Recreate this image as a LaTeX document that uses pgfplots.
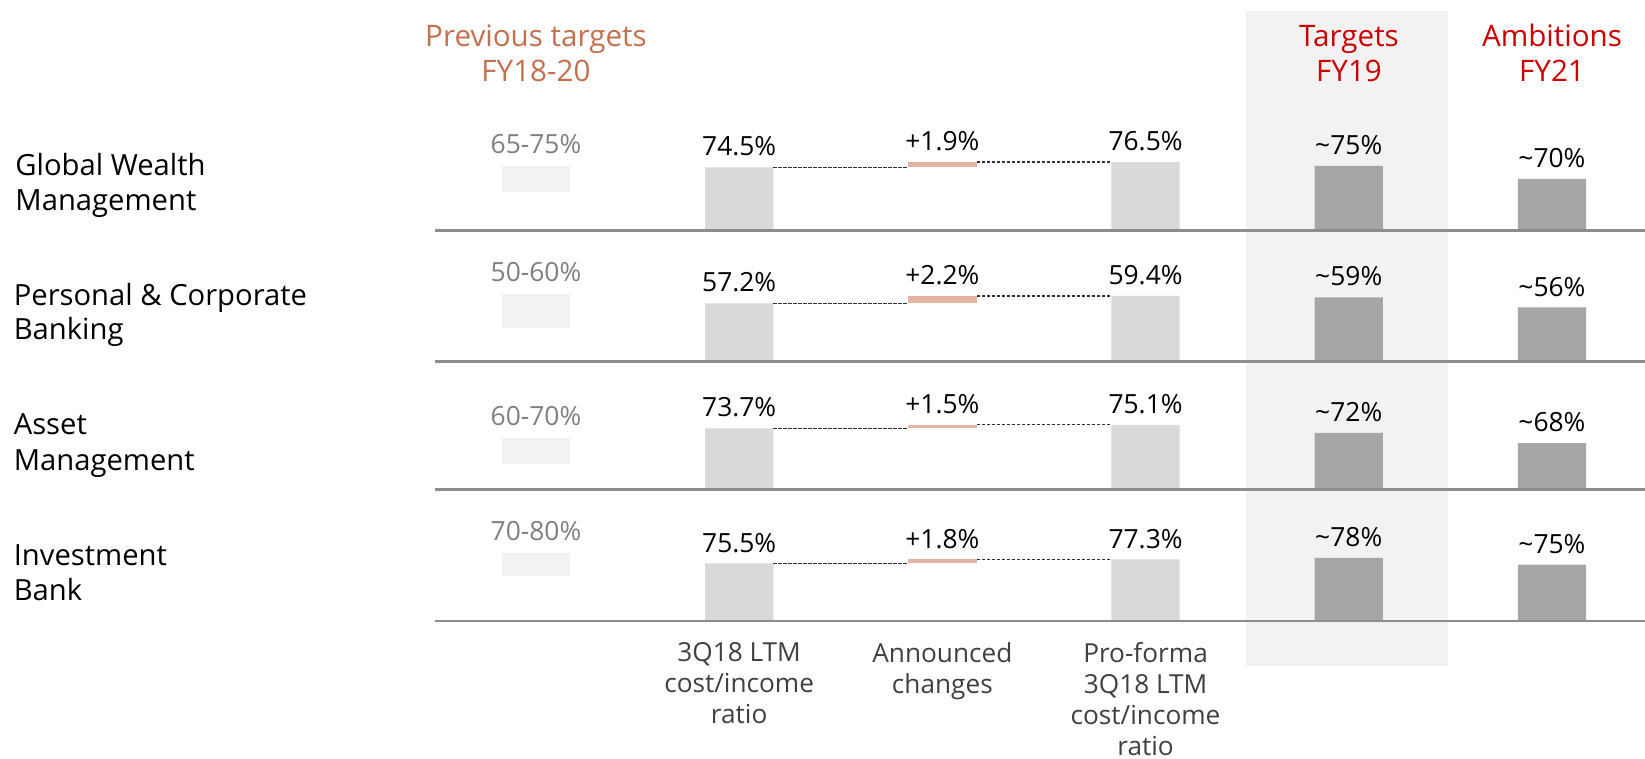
\documentclass[border=0pt]{standalone}
\usepackage{pgfplots}
\pgfplotsset{compat=1.18}
\usepackage{fontspec}
\setmainfont{Open Sans}
\definecolor{lightbar}{HTML}{D9D9D9}
\definecolor{darkbar}{HTML}{A6A6A6}
\definecolor{prevbox}{HTML}{F2F2F2}
\definecolor{chg}{HTML}{E4B4A2}
\definecolor{bandc}{HTML}{F2F2F2}
\definecolor{basegray}{HTML}{8C8C8C}
\definecolor{prevtxt}{HTML}{C4704F}
\definecolor{redtxt}{HTML}{CC0000}
\definecolor{rangetxt}{HTML}{808080}
\definecolor{bottxt}{HTML}{404040}
\definecolor{dashc}{HTML}{333333}
\newcommand\hdfont{\fontsize{14.8}{17}\selectfont}
\newcommand\rowfont{\fontsize{14.6}{17.65}\selectfont}
\newcommand\labfont{\fontsize{13.2}{15}\selectfont}
\newcommand\botfont{\fontsize{13.1}{15.5}\selectfont}
\pgfplotsset{
 rowaxis/.style={scale only axis, width=605pt, height=50pt, xmin=-0.497, xmax=5.458,
   axis x line*=bottom, axis y line=none,
   x axis line style={-, draw=basegray, line width=1.2pt},
   xtick=\empty, ytick=\empty, anchor=south west, axis on top},
 vbar/.style={ybar, bar width=0.336, bar shift=0pt, draw=none, nodes near coords,
   point meta=explicit symbolic,
   every node near coord/.append style={font=\labfont, text=black, anchor=base, inner sep=0pt, yshift=5.7pt}},
 lbar/.style={vbar, fill=lightbar},
 dbar/.style={vbar, fill=darkbar},
 ghost/.style={vbar, fill=none},
 rangelab/.style={vbar, fill=none, every node near coord/.append style={text=rangetxt, yshift=0.6pt}},
 rangebox/.style={draw=none, fill=#1},
 conn/.style={draw=dashc, line width=0.65pt, dash pattern=on 1.6pt off 0.9pt},
}
\begin{document}
\begin{tikzpicture}
\useasboundingbox (0,0) rectangle (822.5pt,-379.5pt);
\fill[bandc] (623pt,-5.5pt) rectangle (724pt,-333pt);
% headers
\node[anchor=base, inner sep=0pt, font=\hdfont, text=prevtxt] at (268pt,-23.35pt) {Previous targets};
\node[anchor=base, inner sep=0pt, font=\hdfont, text=prevtxt] at (268pt,-40.85pt) {FY18-20};
\node[anchor=base, inner sep=0pt, font=\hdfont, text=redtxt] at (674.5pt,-23.35pt) {Targets};
\node[anchor=base, inner sep=0pt, font=\hdfont, text=redtxt] at (674.5pt,-40.85pt) {FY19};
\node[anchor=base, inner sep=0pt, font=\hdfont, text=redtxt] at (776pt,-23.35pt) {Ambitions};
\node[anchor=base, inner sep=0pt, font=\hdfont, text=redtxt] at (776pt,-40.85pt) {FY21};
% row labels
\node[anchor=base west, inner sep=0pt, font=\rowfont] at (7.5pt,-87.85pt) {Global Wealth};
\node[anchor=base west, inner sep=0pt, font=\rowfont] at (7.5pt,-105.5pt) {Management};
\node[anchor=base west, inner sep=0pt, font=\rowfont] at (6.7pt,-152.85pt) {Personal \& Corporate};
\node[anchor=base west, inner sep=0pt, font=\rowfont] at (6.7pt,-170pt) {Banking};
\node[anchor=base west, inner sep=0pt, font=\rowfont] at (6.7pt,-217.5pt) {Asset};
\node[anchor=base west, inner sep=0pt, font=\rowfont] at (6.7pt,-235.35pt) {Management};
\node[anchor=base west, inner sep=0pt, font=\rowfont] at (6.7pt,-282.5pt) {Investment};
\node[anchor=base west, inner sep=0pt, font=\rowfont] at (6.7pt,-300pt) {Bank};

% Row 1: Global Wealth Management
\begin{axis}[rowaxis, at={(217.5pt,-115.35pt)}, ymin=50.1, ymax=88.56]
\addplot[rangebox=prevbox] coordinates {(-0.168,65) (0.168,65) (0.168,75) (-0.168,75)};
\addplot[rangelab] coordinates {(0,75) [65-75\%]};
\addplot[lbar] coordinates {(1,74.5) [74.5\%] (3,76.5) [76.5\%]};
\addplot[rangebox=chg] coordinates {(1.832,74.5) (2.168,74.5) (2.168,76.5) (1.832,76.5)};
\addplot[ghost] coordinates {(2,76.5) [+1.9\%]};
\addplot[conn] coordinates {(1.168,74.5) (1.832,74.5)};
\addplot[conn] coordinates {(2.168,76.5) (2.832,76.5)};
\addplot[dbar] coordinates {(4,75) [\textasciitilde 75\%] (5,70) [\textasciitilde 70\%]};
\end{axis}

% Row 2: Personal & Corporate Banking
\begin{axis}[rowaxis, at={(217.5pt,-180.85pt)}, ymin=39.9, ymax=69.57]
\addplot[rangebox=prevbox] coordinates {(-0.168,50) (0.168,50) (0.168,60) (-0.168,60)};
\addplot[rangelab] coordinates {(0,60) [50-60\%]};
\addplot[lbar] coordinates {(1,57.2) [57.2\%] (3,59.4) [59.4\%]};
\addplot[rangebox=chg] coordinates {(1.832,57.2) (2.168,57.2) (2.168,59.4) (1.832,59.4)};
\addplot[ghost] coordinates {(2,59.4) [+2.2\%]};
\addplot[conn] coordinates {(1.168,57.2) (1.832,57.2)};
\addplot[conn] coordinates {(2.168,59.4) (2.832,59.4)};
\addplot[dbar] coordinates {(4,59) [\textasciitilde 59\%] (5,56) [\textasciitilde 56\%]};
\end{axis}

% Row 3: Asset Management
\begin{axis}[rowaxis, at={(217.5pt,-244.65pt)}, ymin=50.0, ymax=88.91]
\addplot[rangebox=prevbox] coordinates {(-0.168,60) (0.168,60) (0.168,70) (-0.168,70)};
\addplot[rangelab] coordinates {(0,70) [60-70\%]};
\addplot[lbar] coordinates {(1,73.7) [73.7\%] (3,75.1) [75.1\%]};
\addplot[rangebox=chg] coordinates {(1.832,73.7) (2.168,73.7) (2.168,75.1) (1.832,75.1)};
\addplot[ghost] coordinates {(2,75.1) [+1.5\%]};
\addplot[conn] coordinates {(1.168,73.7) (1.832,73.7)};
\addplot[conn] coordinates {(2.168,75.1) (2.832,75.1)};
\addplot[dbar] coordinates {(4,72) [\textasciitilde 72\%] (5,68) [\textasciitilde 68\%]};
\end{axis}

% Row 4: Investment Bank
\begin{axis}[rowaxis, at={(217.5pt,-310.5pt)}, ymin=49.8, ymax=94.44,
  xtick={1,2,3}, major tick length=0pt,
  xticklabels={{3Q18 LTM\\cost/income\\ratio},{Announced\\changes},{Pro-forma\\3Q18 LTM\\cost/income\\ratio}},
  xticklabel style={align=center, font=\botfont, text=bottxt, anchor=north, yshift=-7.4pt}]
\addplot[rangebox=prevbox] coordinates {(-0.168,70) (0.168,70) (0.168,80) (-0.168,80)};
\addplot[rangelab] coordinates {(0,80) [70-80\%]};
\addplot[lbar] coordinates {(1,75.5) [75.5\%] (3,77.3) [77.3\%]};
\addplot[rangebox=chg] coordinates {(1.832,75.5) (2.168,75.5) (2.168,77.3) (1.832,77.3)};
\addplot[ghost] coordinates {(2,77.3) [+1.8\%]};
\addplot[conn] coordinates {(1.168,75.5) (1.832,75.5)};
\addplot[conn] coordinates {(2.168,77.3) (2.832,77.3)};
\addplot[dbar] coordinates {(4,78) [\textasciitilde 78\%] (5,75) [\textasciitilde 75\%]};
\end{axis}
\end{tikzpicture}
\end{document}
